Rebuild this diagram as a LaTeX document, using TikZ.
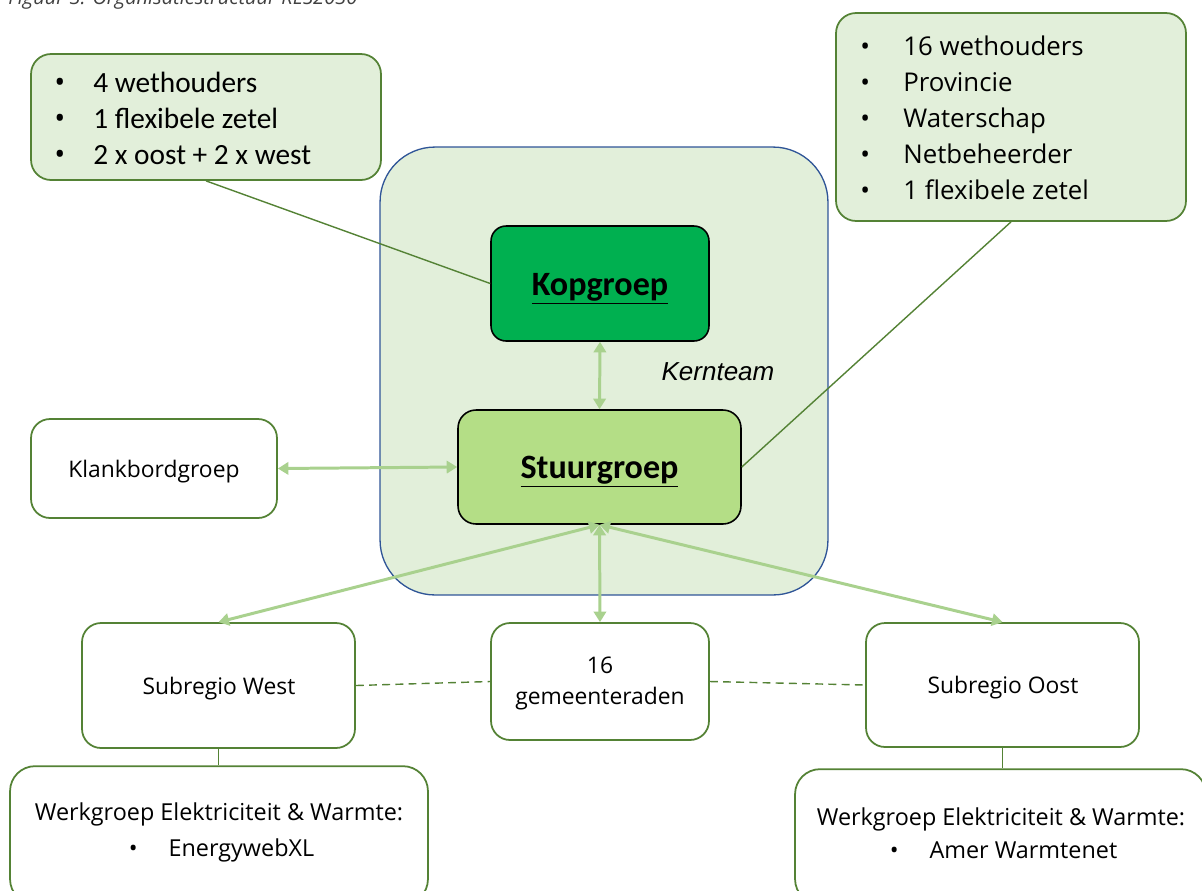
\documentclass[tikz,border=0pt]{standalone}
\usepackage{fontspec}
\setmainfont{Carlito}
\newfontfamily\osans{Open Sans}
\newfontfamily\arial{Liberation Sans}
\usetikzlibrary{arrows.meta}
\definecolor{lightg}{HTML}{E2EFDA}
\definecolor{bord}{HTML}{548235}
\definecolor{arrg}{HTML}{A9D18E}
\definecolor{kopg}{HTML}{00B050}
\definecolor{stuurg}{HTML}{B4DE86}
\definecolor{blueb}{HTML}{2F5597}
\definecolor{capg}{HTML}{404040}
\newcommand{\blt}[2]{\makebox[#1][l]{\osans\textbullet}#2}
\tikzset{
  callout/.style={draw=bord, fill=lightg, line width=1pt, rounded corners=0.4cm, inner sep=0pt},
  whitebox/.style={draw=bord, fill=white, line width=1pt, rounded corners=0.38cm, inner sep=0pt},
  corebox/.style={draw=black, line width=0.9pt, inner sep=0pt},
  arr/.style={draw=arrg, line width=1.7pt, {Triangle[length=6pt,width=7pt]}-{Triangle[length=6pt,width=7pt]}},
  thinline/.style={draw=bord, line width=0.8pt},
  dashline/.style={draw=bord, line width=0.8pt, dash pattern=on 4.5pt off 3pt},
  smalltxt/.style={font=\osans\fontsize{13pt}{18.2pt}\selectfont, anchor=base, inner sep=0pt},
  titletxt/.style={font=\bfseries\fontsize{19.4pt}{22pt}\selectfont, anchor=base, inner sep=0pt},
}
\begin{document}
\begin{tikzpicture}[x=0.02cm, y=-0.02cm]
\useasboundingbox (0,0) rectangle (1202,890);
% caption (cut off at top)
\node[anchor=base west, inner sep=0pt, text=capg, font=\osans\itshape\fontsize{11.4pt}{13pt}\selectfont] (cap) at (8,4) {Figuur 3: Organisatiestructuur RES2030};
% Kernteam container
\node[draw=blueb, fill=lightg, line width=0.75pt, rounded corners=1.1cm, minimum width=8.96cm, minimum height=8.96cm, inner sep=0pt] (kern) at (604,371) {};
\node[inner sep=0pt, font=\arial\itshape\fontsize{14.8pt}{17pt}\selectfont] (kernlbl) at (718,372) {Kernteam};
% callouts
\node[callout, minimum width=7cm, minimum height=2.52cm] (tl) at (206,117) {};
\node[anchor=base west, inner sep=0pt, font=\fontsize{16.7pt}{20.5pt}\selectfont] (tlt) at (54,92)
  {\begin{tabular}[t]{@{}l@{}}\blt{0.78cm}{4 wethouders}\\ \blt{0.78cm}{1 flexibele zetel}\\ \blt{0.78cm}{2 x oost + 2 x west}\end{tabular}};
\node[callout, minimum width=7cm, minimum height=4.16cm] (tr) at (1011,117) {};
\node[anchor=base west, inner sep=0pt, font=\osans\fontsize{14.7pt}{20.6pt}\selectfont] (trt) at (860,55)
  {\begin{tabular}[t]{@{}l@{}}\blt{0.86cm}{16 wethouders}\\ \blt{0.86cm}{Provincie}\\ \blt{0.86cm}{Waterschap}\\ \blt{0.86cm}{Netbeheerder}\\ \blt{0.86cm}{1 flexibele zetel}\end{tabular}};
% core boxes
\node[corebox, fill=kopg, rounded corners=0.3cm, minimum width=4.36cm, minimum height=2.3cm] (kop) at (600,283.5) {};
\node[titletxt] (kopt) at (600,295) {\underline{Kopgroep}};
\node[corebox, fill=stuurg, rounded corners=0.36cm, minimum width=5.66cm, minimum height=2.28cm] (stuur) at (599.5,467) {};
\node[titletxt] (stuurt) at (599.5,478.5) {\underline{Stuurgroep}};
% white boxes
\node[whitebox, minimum width=4.92cm, minimum height=1.98cm] (klank) at (154,468.5) {};
\node[smalltxt] (klankt) at (154,477) {Klankbordgroep};
\node[whitebox, minimum width=5.46cm, minimum height=2.5cm] (west) at (218.5,685.5) {};
\node[smalltxt] (westt) at (219,694) {Subregio West};
\node[whitebox, minimum width=4.36cm, minimum height=2.34cm] (gem) at (600,681.5) {};
\node[smalltxt] (gemt) at (600,673) {\begin{tabular}[t]{@{}c@{}}16\\gemeenteraden\end{tabular}};
\node[whitebox, minimum width=5.46cm, minimum height=2.48cm] (oost) at (1002.5,685) {};
\node[smalltxt] (oostt) at (1003,693.5) {Subregio Oost};
\node[whitebox, rounded corners=0.5cm, minimum width=8.36cm, minimum height=2.76cm, anchor=south] (wgl) at (219,905) {};
\node[whitebox, rounded corners=0.5cm, minimum width=8.22cm, minimum height=2.7cm, anchor=south] (wgr) at (1000.5,905) {};
\node[smalltxt, font=\osans\fontsize{13.3pt}{20.5pt}\selectfont] (wglt) at (219,820) {\begin{tabular}[t]{@{}c@{}}Werkgroep Elektriciteit \& Warmte:\\\hspace*{0.1cm}\textbullet\hspace{0.62cm}EnergywebXL\end{tabular}};
\node[smalltxt, font=\osans\fontsize{13.3pt}{19pt}\selectfont] (wgrt) at (1001,825) {\begin{tabular}[t]{@{}c@{}}Werkgroep Elektriciteit \& Warmte:\\\hspace*{0.1cm}\textbullet\hspace{0.62cm}Amer Warmtenet\end{tabular}};
% connectors
\draw[thinline] (tl.south) -- (kop.west);
\draw[thinline] (tr.south) -- (stuur.east);
\draw[arr] (kop.south) -- (stuur.north);
\draw[arr] (klank.east) -- (stuur.west);
\draw[arr] (stuur.south) -- (west.north);
\draw[arr] (stuur.south) -- (gem.north);
\draw[arr] (stuur.south) -- (oost.north);
\draw[dashline] (west.east) -- (gem.west);
\draw[dashline] (gem.east) -- (oost.west);
\draw[thinline] (west.south) -- (west.south |- wgl.north);
\draw[thinline] (oost.south) -- (oost.south |- wgr.north);
\end{tikzpicture}
\end{document}
